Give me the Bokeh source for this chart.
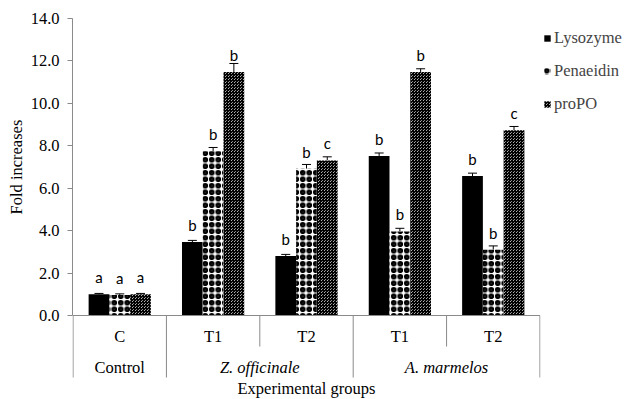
from bokeh.plotting import figure
from bokeh.models import (FactorRange, ColumnDataSource, FixedTicker, PrintfTickFormatter,
                          Whisker, TeeHead, Legend, Title)
from bokeh.transform import dodge
from bokeh.core.properties import value
from bokeh.embed import file_html
from bokeh.resources import INLINE

# ---- data ----
groups = ["Control", "Z. officinale", "Z. officinale", "A. marmelos", "A. marmelos"]
treatments = ["C", "T1", "T2", "T1", "T2"]
series = ["Lysozyme", "Penaeidin", "proPO"]

lysozyme = [1.00, 3.46, 2.80, 7.52, 6.57]
lysozyme_err = [0.04, 0.08, 0.08, 0.14, 0.14]
penaeidin = [0.97, 7.74, 6.92, 3.96, 3.10]
penaeidin_err = [0.05, 0.18, 0.20, 0.15, 0.18]
propo = [1.00, 11.48, 7.31, 11.48, 8.73]
propo_err = [0.04, 0.40, 0.17, 0.15, 0.18]

lysozyme_sig = ["a", "b", "b", "b", "b"]
penaeidin_sig = ["a", "b", "b", "b", "b"]
propo_sig = ["a", "b", "c", "b", "c"]

y_ticks = [0, 2, 4, 6, 8, 10, 12, 14]
x_title = "Experimental groups"
y_title = "Fold increases"

# ---- styling / layout constants ----
SERIF = "Liberation Serif"
FS = "16.5px"
GRAY = "#8a8a8a"
BW = 1 / 4.5
VALUE_PX = 297                  # pixel height of 0..14
PX_PER_UNIT = VALUE_PX / 14
TOP_PX = 18                     # empty room above the top tick
BELOW_PX = 83                   # room under the zero line for the category labels
FRAME_H = TOP_PX + VALUE_PX + BELOW_PX
LONG = -62 / PX_PER_UNIT        # group separators
SHORT = -31 / PX_PER_UNIT       # separators inside a group
EDGE = 0.006                    # keeps edge lines off the frame border
YTITLE_W = 95                   # approx. rendered length of the y title

factors = list(zip(groups, treatments))
n = len(factors)
src = ColumnDataSource(dict(
    x=factors,
    lys=lysozyme, lys_hi=[v + e for v, e in zip(lysozyme, lysozyme_err)], lys_sig=lysozyme_sig,
    pen=penaeidin, pen_hi=[v + e for v, e in zip(penaeidin, penaeidin_err)], pen_sig=penaeidin_sig,
    pro=propo, pro_hi=[v + e for v, e in zip(propo, propo_err)], pro_sig=propo_sig,
))

xr = FactorRange(*factors, factor_padding=0, group_padding=0,
                 range_padding=EDGE, range_padding_units="absolute")
p = figure(x_range=xr,
           y_range=(-BELOW_PX / PX_PER_UNIT, y_ticks[-1] + TOP_PX / PX_PER_UNIT),
           frame_width=468, frame_height=FRAME_H,
           output_backend="svg", toolbar_location=None, x_axis_location=None,
           min_border_left=72, min_border_right=0, min_border_top=0, min_border_bottom=0)
p.outline_line_color = None
p.xgrid.visible = False
p.ygrid.visible = False

# y axis (only over the value part)
yax = p.yaxis[0]
yax.bounds = (y_ticks[0], y_ticks[-1])
yax.ticker = FixedTicker(ticks=y_ticks)
yax.formatter = PrintfTickFormatter(format="%.1f")
yax.axis_line_color = GRAY
yax.major_tick_line_color = GRAY
yax.major_tick_in = 0
yax.major_tick_out = 5
yax.minor_tick_line_color = None
yax.major_label_standoff = 8
yax.major_label_text_font = SERIF
yax.major_label_text_font_size = FS
yax.major_label_text_font_style = "normal"
yax.major_label_text_color = "black"

# y title, centred on the value part of the frame
title_offset = BELOW_PX + VALUE_PX / 2 - YTITLE_W / 2
p.add_layout(Title(text=y_title, align="left", offset=title_offset,
                   text_font=SERIF, text_font_size=FS, text_font_style="normal",
                   text_color="black", standoff=4), "left")

offsets = [-BW, 0, BW]
cols = [("lys", "lys_hi", "lys_sig"), ("pen", "pen_hi", "pen_sig"), ("pro", "pro_hi", "pro_sig")]
styles = [
    dict(fill_color="black"),
    dict(fill_color="white", hatch_pattern="ring", hatch_color="black", hatch_scale=6.5, hatch_weight=2.5),
    dict(fill_color="white", hatch_pattern="criss_cross", hatch_color="black", hatch_scale=3, hatch_weight=1.2),
]
renderers = []
for off, (c, chi, csig), st in zip(offsets, cols, styles):
    xs = dodge("x", off, range=p.x_range)
    r = p.vbar(x=xs, top=c, width=BW, source=src, line_color=None, **st)
    renderers.append(r)
    p.add_layout(Whisker(base=xs, lower=c, upper=chi, source=src, line_color="black", line_width=1,
                         upper_head=TeeHead(size=9, line_color="black", line_width=1), lower_head=None))
    p.text(x=xs, y=c, text=csig, source=src, y_offset=-17, text_align="center",
           text_baseline="alphabetic", text_font=value("Lato"), text_font_size="15px", text_color="black")

# horizontal category axis line and separators
p.segment(x0=[0], y0=[0], x1=[n], y1=[0], line_color=GRAY, line_width=1)
sep_x, sep_y = [], []
for i in range(n + 1):
    is_group_edge = i == 0 or i == n or groups[i] != groups[i - 1]
    sep_x.append(i)
    sep_y.append(LONG if is_group_edge else SHORT)
p.segment(x0=sep_x, y0=[0] * len(sep_x), x1=sep_x, y1=sep_y, line_color=GRAY, line_width=1)

# category labels (first row: treatments, second row: groups)
p.text(x=factors, y=[0] * n, text=treatments, y_offset=21, text_align="center", text_baseline="middle",
       text_font=value(SERIF), text_font_size=FS, text_color="black")
group_names, group_x = [], []
for g in groups:
    if g not in group_names:
        group_names.append(g)
for g in group_names:
    idx = [i for i, gg in enumerate(groups) if gg == g]
    group_x.append((idx[0] + idx[-1] + 1) / 2)
styles_g = ["normal" if g == "Control" else "italic" for g in group_names]
p.text(x=group_x, y=[0] * len(group_x), text=group_names, text_font_style=styles_g, y_offset=52,
       text_align="center", text_baseline="middle",
       text_font=value(SERIF), text_font_size=FS, text_color="black")
p.text(x=[n / 2], y=[0], text=[x_title], y_offset=73, text_align="center", text_baseline="middle",
       text_font=value(SERIF), text_font_size=FS, text_color="black")

# legend in the right panel, first item centred ~38px below the top
LEG_ITEM_H = 32
LEG_SPACING = 1
leg_h = len(series) * LEG_ITEM_H + (len(series) - 1) * LEG_SPACING
leg_top = 38 - LEG_ITEM_H / 2
legend = Legend(items=[(s, [r]) for s, r in zip(series, renderers)],
                location=(3, FRAME_H - leg_top - leg_h),
                label_text_font=SERIF, label_text_font_size=FS, glyph_width=8, glyph_height=8,
                label_standoff=3, spacing=LEG_SPACING, padding=0, margin=0, border_line_color=None,
                background_fill_alpha=0, label_height=LEG_ITEM_H)
p.add_layout(legend, "right")

open("out.html", "w").write(file_html(p, INLINE))
